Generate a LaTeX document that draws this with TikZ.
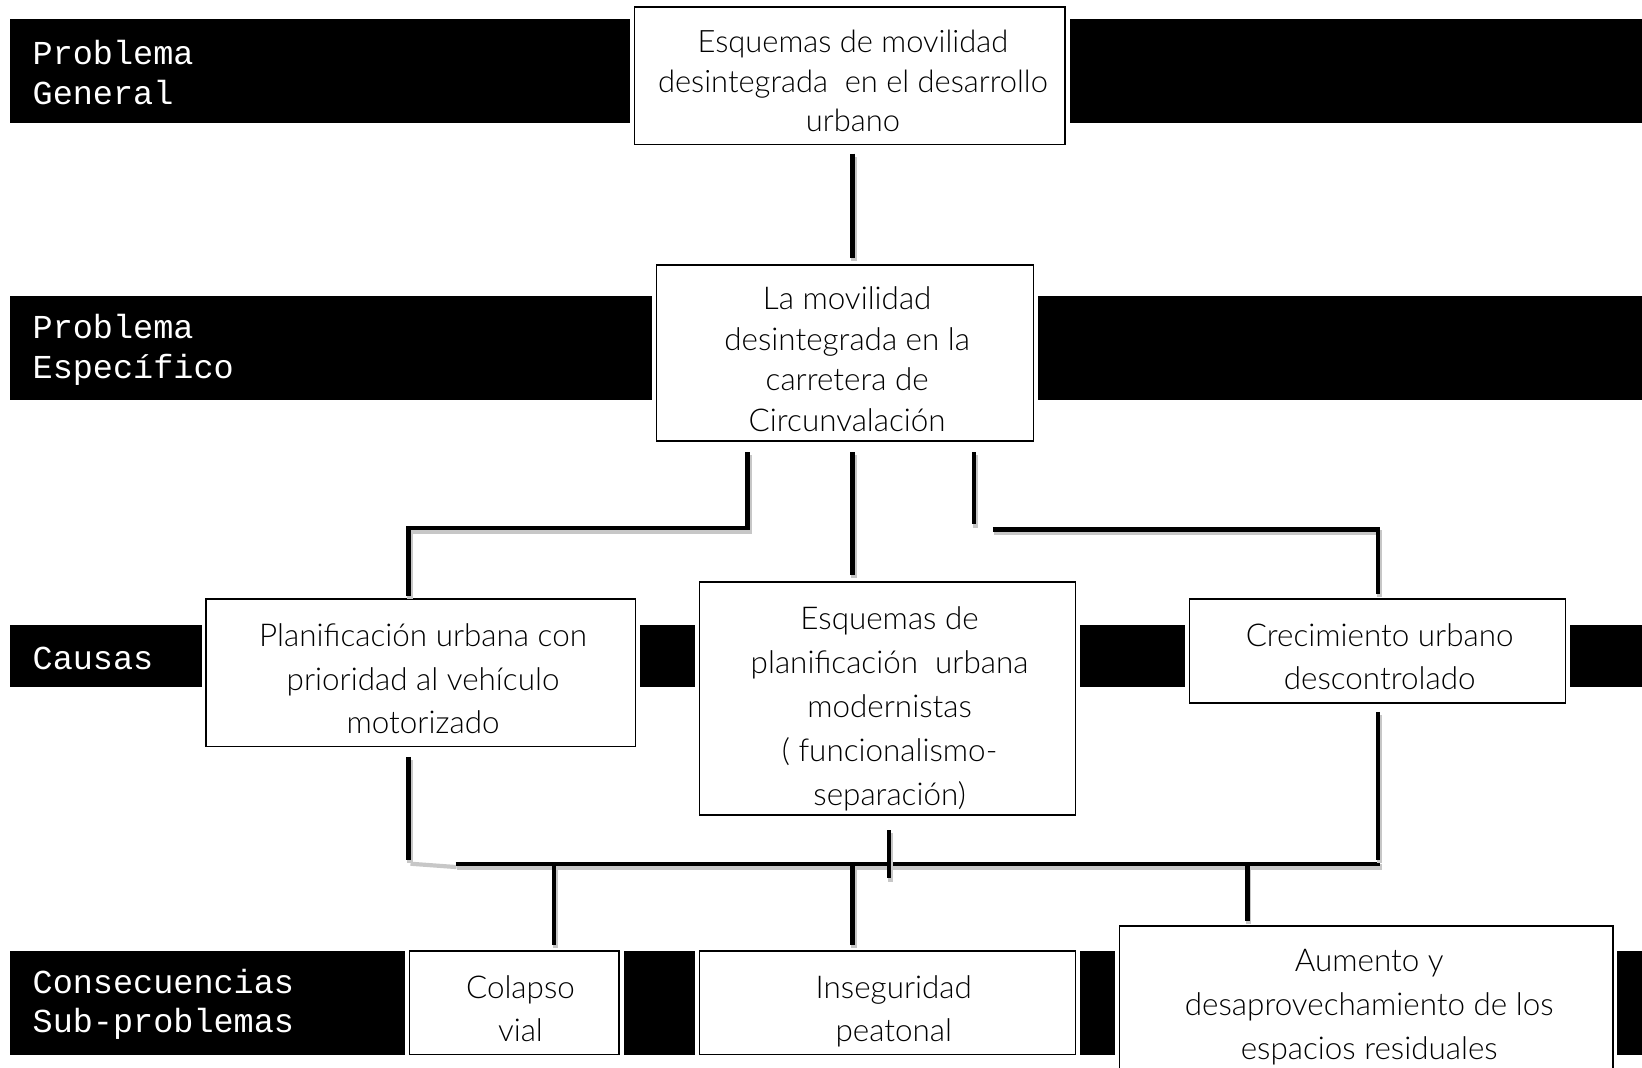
\documentclass[tikz,border=0pt]{standalone}
\usepackage{fontspec}
\setmainfont{Lato}[UprightFont=* Light]
\newfontfamily\bandfont{Liberation Mono}
\usetikzlibrary{calc}
\begin{document}
\begin{tikzpicture}[x=1pt,y=-1pt,
  box/.style={draw=black, line width=1.6pt, fill=white,
    preaction={draw=white, line width=9pt}, inner sep=0pt},
  txt/.style={align=center, inner sep=0pt, font=\fontsize{30}{41}\selectfont},
  lab/.style={text=white, font=\bandfont\fontsize{32}{38}\selectfont,
    anchor=west, align=left, inner sep=0pt},
  conn/.style={line width=4.5pt,
    preaction={draw=black!22, line width=5pt, transform canvas={shift={(1.5pt,-3pt)}}}},
]
\useasboundingbox (0,0) rectangle (1568,1019);
% bands
\fill[black] (10,18) rectangle (1568,117);
\fill[black] (10,283) rectangle (1568,382);
\fill[black] (10,597) rectangle (1568,656);
\fill[black] (10,908) rectangle (1568,1007);
\node[lab] (l1) at (31,69) {Problema\\General};
\node[lab] (l2) at (31,334) {Problema\\Específico};
\node[lab] (l3) at (31,629) {Causas};
\node[lab] (l4) at (31,959) {Consecuencias\\Sub-problemas};
% boxes
\node[box, minimum width=411, minimum height=131] (b1) at (811.5,72.5) {};
\node[box, minimum width=360, minimum height=168] (b2) at (807,337) {};
\node[box, minimum width=410, minimum height=141] (b3) at (402,642.5) {};
\node[box, minimum width=359, minimum height=222] (b4) at (847.5,667) {};
\node[box, minimum width=359, minimum height=99] (b5) at (1315.5,621.5) {};
\node[box, minimum width=200, minimum height=99] (b6) at (491,957.5) {};
\node[box, minimum width=359, minimum height=99] (b7) at (847.5,957.5) {};
\node[box, minimum width=471, minimum height=146] (b8) at (1304.5,957) {};
% texts
\node[txt, font=\fontsize{29.5}{37.5}\selectfont] (t1) at ($(b1.center)+(3,8)$)
  {\strut Esquemas de movilidad\\desintegrada\ \ en el desarrollo\\urbano\strut};
\node[txt, font=\fontsize{30}{38.7}\selectfont] (t2) at ($(b2.center)+(2,9)$)
  {\strut La movilidad\\desintegrada en la\\carretera de\\Circunvalación\strut};
\node[txt, font=\fontsize{30}{41.5}\selectfont] (t3) at ($(b3.center)+(2,8.5)$)
  {\strut Planificación urbana con\\prioridad al vehículo\\motorizado\strut};
\node[txt, font=\fontsize{30}{42}\selectfont] (t4) at ($(b4.center)+(2,10)$)
  {\strut Esquemas de\\planificación\ \ urbana\\modernistas\\( funcionalismo-\\separación)\strut};
\node[txt] (t5) at ($(b5.center)+(2,8)$)
  {\strut Crecimiento urbano\\descontrolado\strut};
\node[txt] (t6) at ($(b6.center)+(6,8)$)
  {\strut Colapso\\vial\strut};
\node[txt] (t7) at ($(b7.center)+(6,8)$)
  {\strut Inseguridad\\peatonal\strut};
\node[txt, font=\fontsize{30}{42}\selectfont] (t8) at ($(b8.center)+(3,4)$)
  {\strut Aumento y\\desaprovechamiento de los\\espacios residuales\strut};
% connectors
\draw[conn] ($(b1.south)+(2.5,8)$) -- ($(b2.north)+(7,-6)$);
\draw[conn] ($(b2.south)+(-93,10)$) |- ($(b3.north)+(-12,-67)$) -- ($(b3.north)+(-12,-2)$);
\draw[conn] ($(b2.south)+(7,10)$) -- ($(b4.north)+(-33.5,-6)$);
\coordinate (rgap) at ($(b2.south)+(141,84)$);
\draw[conn] ($(b2.south)+(123,10)$) -- ($(b2.south)+(123,79)$);
\draw[conn] (rgap) -| ($(b5.north)+(0.5,-4)$);
% lower bus
\coordinate (busL) at (435,825);
\coordinate (busR) at (1318,825);
\draw[conn] ($(b3.south)+(-12,9)$) -- ($(b3.south)+(-12,107)$);
\draw[black!22, line width=4pt] ($(b3.south)+(-10,111)$) -- ($(busL)+(1,3)$);
\draw[conn] (busL) -- (busR);
\draw[conn] ($(b5.south)+(0.5,8)$) -- ($(b5.south)+(0.5,149)$);
\draw[conn] ($(b4.south)+(1.5,14)$) -- ($(b4.south)+(1.5,60)$);
\draw[conn] ($(b6.north)+(38,-83)$) -- ($(b6.north)+(38,-5)$);
\draw[conn] ($(b7.north)+(-33.5,-83)$) -- ($(b7.north)+(-33.5,-5)$);
\draw[conn] ($(b8.north)+(-113.5,-59)$) -- ($(b8.north)+(-113.5,-4)$);
\end{tikzpicture}
\end{document}
